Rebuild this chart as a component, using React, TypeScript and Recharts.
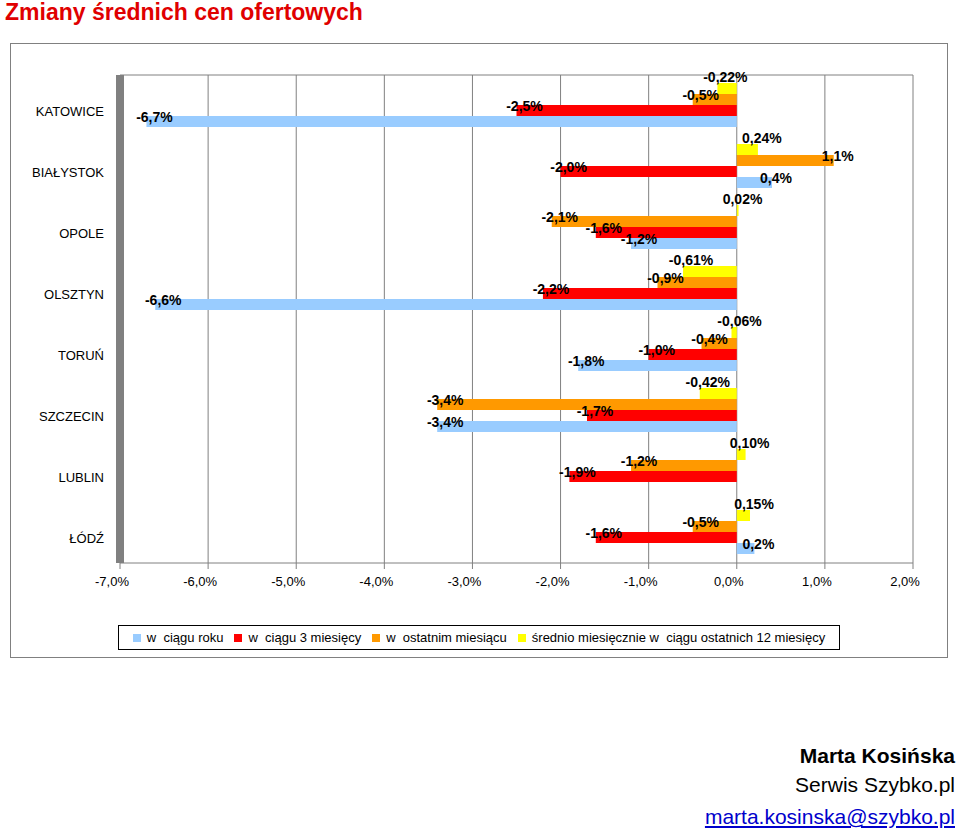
import React from 'react';
import { BarChart, Bar, XAxis, YAxis, CartesianGrid, LabelList, Legend } from 'recharts';

const cities = ['KATOWICE', 'BIAŁYSTOK', 'OPOLE', 'OLSZTYN', 'TORUŃ', 'SZCZECIN', 'LUBLIN', 'ŁÓDŹ'];
const roku = [-6.7, 0.4, -1.2, -6.6, -1.8, -3.4, 0.0, 0.2];
const trzyMies = [-2.5, -2.0, -1.6, -2.2, -1.0, -1.7, -1.9, -1.6];
const ostatniMies = [-0.5, 1.1, -2.1, -0.9, -0.4, -3.4, -1.2, -0.5];
const srednio = [-0.22, 0.24, 0.02, -0.61, -0.06, -0.42, 0.1, 0.15];
const xTicks = [-7, -6, -5, -4, -3, -2, -1, 0, 1, 2];

// legend order as in the original
const series = [
  { key: 'roku', name: 'w  ciągu roku', color: '#99ccff' },
  { key: 'trzy', name: 'w  ciągu 3 miesięcy', color: '#ff0000' },
  { key: 'ostatni', name: 'w  ostatnim miesiącu', color: '#ff9900' },
  { key: 'srednio', name: 'średnio miesięcznie w  ciągu ostatnich 12 miesięcy', color: '#ffff00' },
];

const data = cities.map((city, i) => ({
  city,
  roku: roku[i],
  trzy: trzyMies[i],
  ostatni: ostatniMies[i],
  srednio: srednio[i],
}));

const FONT = '"Liberation Sans", Arial, sans-serif';

const fmt1 = (v: number) => v.toFixed(1).replace('.', ',') + '%';
const fmtLabel = (v: number, key: string) => {
  const digits = key === 'srednio' ? 2 : 1;
  return v.toFixed(digits).replace('.', ',') + '%';
};

const makeLabel = (key: string) => (props: any) => {
  const { x, y, width, height, value } = props;
  const v = Number(value);
  const left = Math.min(x, x + width);
  const right = Math.max(x, x + width);
  const end = v < 0 ? left : right;
  const top = Math.min(y, y + height);
  const tx = v < 0 ? end + 8 : end + 4;
  const ty = key === 'srednio' ? top - 1 : top + 6;
  return (
    <text x={tx} y={ty} textAnchor="middle" fontSize={14} fontWeight="bold" fill="#000" fontFamily={FONT}>
      {fmtLabel(v, key)}
    </text>
  );
};

const LegendBox = () => (
  <div
    style={{
      width: 720,
      height: 23,
      border: '1px solid #000',
      background: '#fff',
      display: 'flex',
      alignItems: 'center',
      justifyContent: 'center',
      gap: 11,
      fontFamily: FONT,
      fontSize: 13,
      color: '#000',
      whiteSpace: 'pre',
    }}
  >
    {series.map((s) => (
      <div key={s.key} style={{ display: 'flex', alignItems: 'center' }}>
        <span style={{ display: 'inline-block', width: 8, height: 8, background: s.color, marginRight: 6 }} />
        <span>{s.name}</span>
      </div>
    ))}
  </div>
);

const barOrder = ['srednio', 'ostatni', 'trzy', 'roku'];

export default function App() {
  return (
    <div style={{ position: 'absolute', left: 0, top: 0, width: 960, height: 831, background: '#fff', fontFamily: FONT }}>
      <div style={{ position: 'absolute', left: 5, top: -1, fontSize: 23, fontWeight: 'bold', color: '#e00000' }}>
        Zmiany średnich cen ofertowych
      </div>
      <div
        style={{
          position: 'absolute',
          left: 10,
          top: 43,
          width: 936,
          height: 613,
          border: '1px solid #808080',
          background: '#fff',
        }}
      />
      <div style={{ position: 'absolute', left: 0, top: 0 }}>
        <BarChart
          width={960}
          height={660}
          data={data}
          layout="vertical"
          barCategoryGap={8}
          barGap={0}
          margin={{ top: 75, right: 47, left: 20, bottom: 67 }}
        >
          <CartesianGrid
            stroke="#808080"
            vertical={true}
            horizontal={true}
            horizontalCoordinatesGenerator={({ offset }: any) => [offset.top]}
          />
          <XAxis
            type="number"
            domain={[-7, 2]}
            ticks={xTicks}
            tickFormatter={fmt1}
            axisLine={{ stroke: '#808080' }}
            tickLine={{ stroke: '#808080' }}
            tick={{ fontSize: 13, fill: '#000', fontFamily: FONT, dx: -8 }}
            tickMargin={8}
            height={30}
          />
          <YAxis
            type="category"
            dataKey="city"
            width={100}
            tickLine={false}
            axisLine={{ stroke: '#808080', strokeWidth: 8 }}
            tick={{ fontSize: 13, fill: '#000', fontFamily: FONT, dy: 6 }}
            tickMargin={10}
          />
          {barOrder.map((k) => {
            const s = series.find((x) => x.key === k)!;
            return (
              <Bar key={k} dataKey={k} name={s.name} fill={s.color} isAnimationActive={false}>
                <LabelList dataKey={k} content={makeLabel(k)} />
              </Bar>
            );
          })}
          <Legend
            layout="horizontal"
            verticalAlign="middle"
            align="center"
            content={() => <LegendBox />}
            wrapperStyle={{ left: 118, top: 625, width: 722 }}
          />
        </BarChart>
      </div>
      <div style={{ position: 'absolute', right: 5, top: 744, fontSize: 21, lineHeight: '24px', fontWeight: 'bold', color: '#000' }}>
        Marta Kosińska
      </div>
      <div style={{ position: 'absolute', right: 5, top: 773, fontSize: 21, lineHeight: '24px', color: '#000' }}>
        Serwis Szybko.pl
      </div>
      <div style={{ position: 'absolute', right: 5, top: 805, fontSize: 21, lineHeight: '24px', color: '#0000cc', textDecoration: 'underline' }}>
        marta.kosinska@szybko.pl
      </div>
    </div>
  );
}
